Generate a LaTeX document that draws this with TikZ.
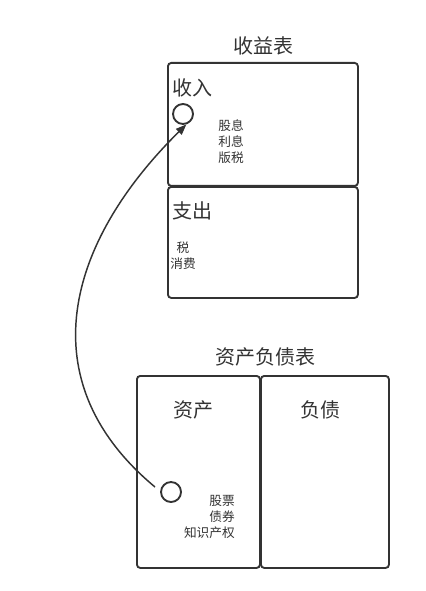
\documentclass[tikz,border=0pt]{standalone}
\usepackage{fontspec}
\newfontfamily\cjk{Noto Sans CJK SC}
\usetikzlibrary{arrows.meta}
\definecolor{ink}{HTML}{333333}
\tikzset{
  panel/.style={draw=ink, line width=1.4pt, rounded corners=2.5pt, anchor=north west, inner sep=0pt},
  bigtxt/.style={text=ink, font=\cjk\fontsize{15}{18}\selectfont, inner sep=0pt},
  smalltxt/.style={text=ink, font=\cjk\fontsize{9.5}{12}\selectfont, inner sep=0pt},
  dot/.style={draw=ink, line width=1.4pt, circle, minimum size=15pt, inner sep=0pt},
  flow/.style={draw=ink, line width=1.1pt, -{Triangle[length=8pt,width=6pt]}}
}
\begin{document}
\begin{tikzpicture}[x=0.75pt,y=-0.75pt]
\useasboundingbox[fill=white] (0,0) rectangle (425,591);
% income statement
\node[bigtxt] (t1) at (263,46) {收益表};
\node[panel, minimum width=142.5pt, minimum height=92.25pt] (inc) at (167,62) {};
\node[panel, minimum width=142.5pt, minimum height=83.25pt] (exp) at (167,186) {};
\node[bigtxt] (incl) at (192,88) {收入};
\node[dot] (c1) at (183,114) {};
\node[smalltxt, align=center] (incitems) at (231,142) {股息\\利息\\版税};
\node[bigtxt] (expl) at (192,211) {支出};
\node[smalltxt, align=center] (expitems) at (183,256) {税\\消费};
% balance sheet
\node[bigtxt] (t2) at (265,357) {资产负债表};
\node[panel, minimum width=92.25pt, minimum height=144pt] (ast) at (136,375) {};
\node[panel, minimum width=96pt, minimum height=144pt] (lia) at (260,375) {};
\node[bigtxt] (astl) at (193,410) {资产};
\node[bigtxt] (lial) at (320,410) {负债};
\node[dot] (c2) at (171,492) {};
\node[smalltxt, align=right, anchor=east] (astitems) at (235,517) {股票\\债券\\知识产权};
% connector
\coordinate (s) at (155,487);
\draw[flow] (s) .. controls (27.6,381) and (66.7,242.3) .. (c1.-72);
\end{tikzpicture}
\end{document}
